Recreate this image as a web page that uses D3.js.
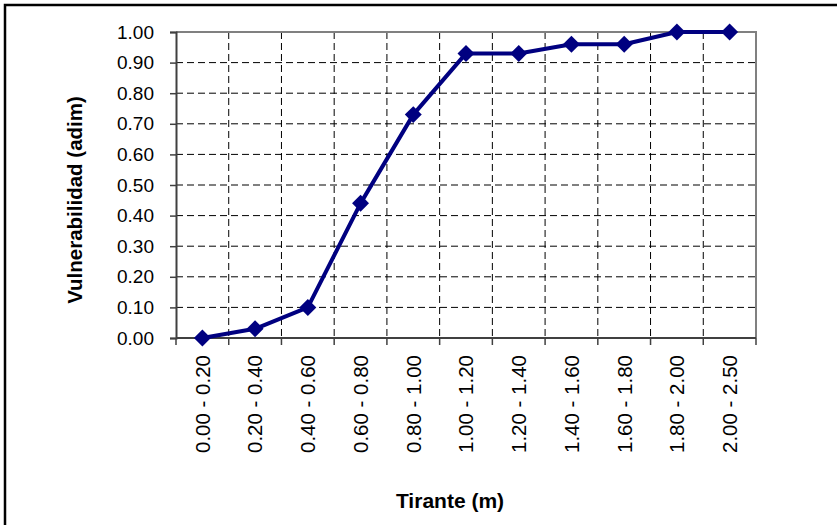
<html>
<head>
<script src="https://d3js.org/d3.v7.min.js"></script>
<style>
  body { margin: 0; background: #fff; }
  text { font-family: "Liberation Sans", Arial, sans-serif; fill: #000; }
</style>
</head>
<body>
<svg width="837" height="525"></svg>
<script>
// chart data
var categories = ["0.00 - 0.20", "0.20 - 0.40", "0.40 - 0.60", "0.60 - 0.80", "0.80 - 1.00",
                  "1.00 - 1.20", "1.20 - 1.40", "1.40 - 1.60", "1.60 - 1.80", "1.80 - 2.00", "2.00 - 2.50"];
var vulnerability = [0.00, 0.03, 0.10, 0.44, 0.73, 0.93, 0.93, 0.96, 0.96, 1.00, 1.00];
var yTicks = [0, 0.1, 0.2, 0.3, 0.4, 0.5, 0.6, 0.7, 0.8, 0.9, 1.0];

var svg = d3.select("svg");

// outer chart frame (only top/left visible in the picture)
svg.append("rect")
  .attr("x", 5).attr("y", 5)
  .attr("width", 900).attr("height", 600)
  .attr("fill", "none").attr("stroke", "#000").attr("stroke-width", 2.5);

var pLeft = 176, pTop = 32, pRight = 756, pBottom = 338;

var xs = d3.scaleBand().domain(categories).range([pLeft, pRight]);
var ys = d3.scaleLinear().domain([0, 1]).range([pBottom, pTop]);

// horizontal grid
svg.append("g").selectAll("line").data(yTicks.slice(1, -1)).enter().append("line")
  .attr("x1", pLeft).attr("x2", pRight)
  .attr("y1", function(d) { return ys(d); })
  .attr("y2", function(d) { return ys(d); })
  .attr("stroke", "#000").attr("stroke-width", 1)
  .attr("stroke-dasharray", "7,4");

// vertical grid at category boundaries
svg.append("g").selectAll("line").data(categories.slice(1)).enter().append("line")
  .attr("x1", function(d) { return xs(d); })
  .attr("x2", function(d) { return xs(d); })
  .attr("y1", pTop).attr("y2", pBottom)
  .attr("stroke", "#000").attr("stroke-width", 1)
  .attr("stroke-dasharray", "7,4");

// plot border top/right
svg.append("path")
  .attr("d", "M" + pLeft + "," + pTop + "H" + pRight + "V" + pBottom)
  .attr("fill", "none").attr("stroke", "#808080").attr("stroke-width", 2);

// y axis
var yAxis = svg.append("g").attr("transform", "translate(" + pLeft + ",0)")
  .call(d3.axisLeft(ys).tickValues(yTicks).tickFormat(d3.format(".2f")).tickSizeOuter(0).tickSize(6).tickPadding(16));
yAxis.select(".domain").attr("stroke", "#404040").attr("stroke-width", 2);
yAxis.selectAll(".tick line").attr("stroke", "#404040").attr("stroke-width", 1.5);
yAxis.selectAll(".tick text").style("font-size", "19px").style("font-family", "Liberation Sans, Arial, sans-serif");

// x axis: ticks at category boundaries
var xBounds = categories.map(function(c) { return xs(c); }).concat([pRight]);
var xAxis = svg.append("g").attr("transform", "translate(0," + pBottom + ")");
xAxis.append("line").attr("x1", pLeft).attr("x2", pRight)
  .attr("stroke", "#404040").attr("stroke-width", 2);
xAxis.selectAll(".tk").data(xBounds).enter().append("line")
  .attr("x1", function(d) { return d; }).attr("x2", function(d) { return d; })
  .attr("y1", 0).attr("y2", 7)
  .attr("stroke", "#404040").attr("stroke-width", 1.5);
xAxis.selectAll(".lbl").data(categories).enter().append("text")
  .attr("transform", function(d) {
    return "translate(" + (xs(d) + xs.bandwidth() / 2) + ",17) rotate(-90)";
  })
  .attr("dy", "0.36em")
  .style("text-anchor", "end")
  .style("font-size", "20.5px")
  .text(function(d) { return d; });

// line + markers
var line = d3.line()
  .x(function(d, i) { return xs(categories[i]) + xs.bandwidth() / 2; })
  .y(function(d) { return ys(d); });

svg.append("path").datum(vulnerability)
  .attr("d", line)
  .attr("fill", "none").attr("stroke", "#000080").attr("stroke-width", 4)
  .attr("stroke-linejoin", "round");

svg.append("g").selectAll("path").data(vulnerability).enter().append("path")
  .attr("d", d3.symbol().type(d3.symbolSquare).size(144))
  .attr("transform", function(d, i) {
    return "translate(" + (xs(categories[i]) + xs.bandwidth() / 2) + "," + ys(d) + ") rotate(45)";
  })
  .attr("fill", "#000080");

// axis titles
svg.append("text")
  .attr("transform", "translate(82,200) rotate(-90)")
  .style("text-anchor", "middle")
  .style("font-size", "20.5px").style("font-weight", "bold")
  .text("Vulnerabilidad (adim)");

svg.append("text")
  .attr("x", 450).attr("y", 508)
  .style("text-anchor", "middle")
  .style("font-size", "21px").style("font-weight", "bold")
  .text("Tirante (m)");
</script>
</body>
</html>
